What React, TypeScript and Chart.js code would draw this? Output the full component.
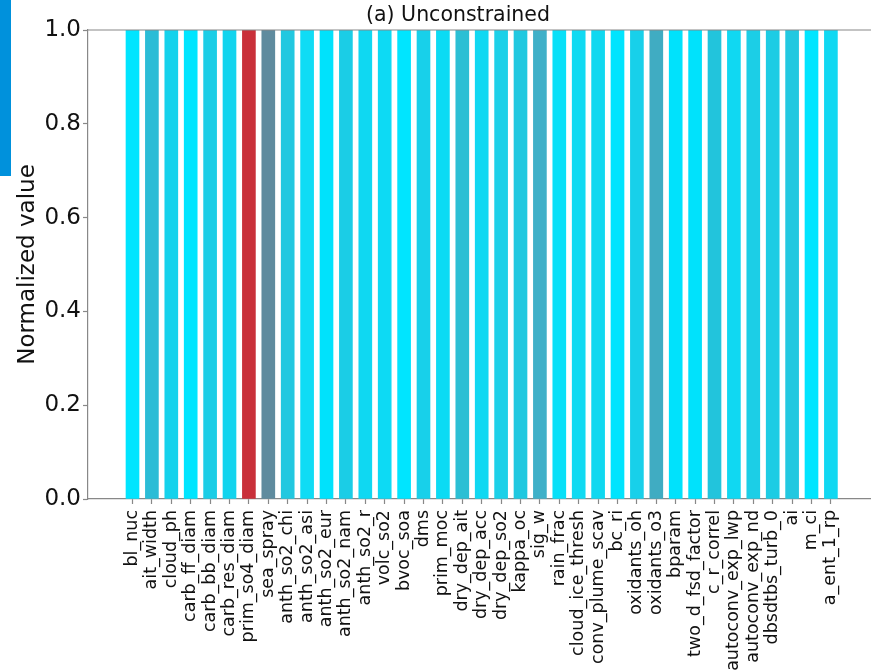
import React, { useEffect, useRef } from "react";
import { Chart, registerables } from "chart.js";

Chart.register(...registerables);

const categories = [
  "bl_nuc", "ait_width", "cloud_ph", "carb_ff_diam", "carb_bb_diam", "carb_res_diam",
  "prim_so4_diam", "sea_spray", "anth_so2_chi", "anth_so2_asi", "anth_so2_eur",
  "anth_so2_nam", "anth_so2_r", "volc_so2", "bvoc_soa", "dms", "prim_moc",
  "dry_dep_ait", "dry_dep_acc", "dry_dep_so2", "kappa_oc", "sig_w", "rain_frac",
  "cloud_ice_thresh", "conv_plume_scav", "bc_ri", "oxidants_oh", "oxidants_o3",
  "bparam", "two_d_fsd_factor", "c_r_correl", "autoconv_exp_lwp", "autoconv_exp_nd",
  "dbsdtbs_turb_0", "ai", "m_ci", "a_ent_1_rp",
];

const values = [
  1, 1, 1, 1, 1, 1, 1, 1, 1, 1, 1, 1, 1, 1, 1, 1, 1, 1, 1,
  1, 1, 1, 1, 1, 1, 1, 1, 1, 1, 1, 1, 1, 1, 1, 1, 1, 1,
];

const barColors = [
  "#00e5ff", "#2bbcd6", "#14d2ec", "#00e5ff", "#1ccde6", "#12d4ee",
  "#c9303a", "#5f8b9e", "#22c8e0", "#0fdcf5", "#00e2fc",
  "#1bcde6", "#0fd8f2", "#0ddaf4", "#00e5ff", "#18d0ea", "#0bdbf4",
  "#2bbfd4", "#10d8f2", "#1cd0e8", "#20c8e0", "#40b0c8", "#08e0f8",
  "#10daf2", "#10d8f0", "#00e4fe", "#18d0ea", "#40acc2",
  "#00e2fc", "#00e2fc", "#22c4dc", "#10d8f2", "#1ccee6",
  "#1ccce4", "#22c8e0", "#00e5ff", "#10d8f2",
];

const yTicks = [0, 0.2, 0.4, 0.6, 0.8, 1.0];
const titleText = "(a) Unconstrained";
const yAxisTitle = "Normalized value";

const FONT = "'DejaVu Sans', sans-serif";
const W = 871;
const H = 670;
const X_MIN = -2.294;
const X_MAX = -2.294 + (W - 88) / 19.4;

export default function App() {
  const ref = useRef<HTMLCanvasElement | null>(null);

  useEffect(() => {
    if (!ref.current) return;
    const titlePlugin = {
      id: "customTitle",
      afterDraw(chart: any) {
        const { ctx, chartArea } = chart;
        ctx.save();
        ctx.strokeStyle = "#888888";
        ctx.lineWidth = 1.2;
        ctx.beginPath();
        ctx.moveTo(chartArea.left, chartArea.top);
        ctx.lineTo(chartArea.right, chartArea.top);
        ctx.stroke();
        ctx.fillStyle = "#111111";
        ctx.font = `20.5px ${FONT}`;
        ctx.textAlign = "center";
        ctx.textBaseline = "middle";
        ctx.fillText(titleText, 458, 16);
        ctx.restore();
      },
    };

    const chart = new Chart(ref.current, {
      type: "bar",
      data: {
        datasets: [
          {
            data: values.map((v, i) => ({ x: i, y: v })),
            backgroundColor: barColors,
            borderWidth: 0,
            barThickness: 13,
          },
        ],
      },
      options: {
        responsive: false,
        animation: false,
        devicePixelRatio: 1,
        layout: { padding: { top: 30, left: 0, right: 0, bottom: 0 } },
        plugins: { legend: { display: false }, tooltip: { enabled: false }, title: { display: false } },
        scales: {
          x: {
            type: "linear",
            offset: false,
            min: X_MIN,
            max: X_MAX,
            afterBuildTicks: (scale: any) => {
              scale.ticks = categories.map((_, i) => ({ value: i }));
            },
            afterFit: (scale: any) => {
              scale.height = H - 499;
              scale.paddingLeft = 0;
              scale.paddingRight = 0;
            },
            ticks: {
              autoSkip: false,
              minRotation: 90,
              maxRotation: 90,
              padding: 6,
              color: "#111111",
              font: { family: FONT, size: 17.5 },
              callback: (value: any) => categories[value] ?? "",
            },
            grid: { offset: false, drawOnChartArea: false, drawTicks: true, tickLength: 5, tickColor: "#888888", tickWidth: 1.2 },
            border: { display: true, color: "#888888", width: 1.2 },
          },
          y: {
            min: 0,
            max: 1,
            afterBuildTicks: (scale: any) => {
              scale.ticks = yTicks.map((v) => ({ value: v }));
            },
            afterFit: (scale: any) => {
              scale.width = 88;
            },
            ticks: {
              padding: 2,
              color: "#111111",
              font: { family: FONT, size: 23 },
              callback: (value: any) => Number(value).toFixed(1),
            },
            grid: { drawOnChartArea: false, drawTicks: true, tickLength: 5, tickColor: "#888888", tickWidth: 1.2 },
            border: { display: true, color: "#888888", width: 1.2 },
            title: {
              display: true,
              text: yAxisTitle,
              color: "#111111",
              font: { family: FONT, size: 23 },
              padding: { top: 14, bottom: 0 },
            },
          },
        },
      },
      plugins: [titlePlugin],
    });
    return () => chart.destroy();
  }, []);

  return (
    <div style={{ position: "fixed", left: 0, top: 0, width: W, height: H, overflow: "hidden", background: "#fff" }}>
      <canvas ref={ref} width={W} height={H} style={{ width: W, height: H, display: "block" }} />
      <div style={{ position: "absolute", left: 0, top: 0, width: 11, height: 176, background: "#0091dc" }} />
    </div>
  );
}
